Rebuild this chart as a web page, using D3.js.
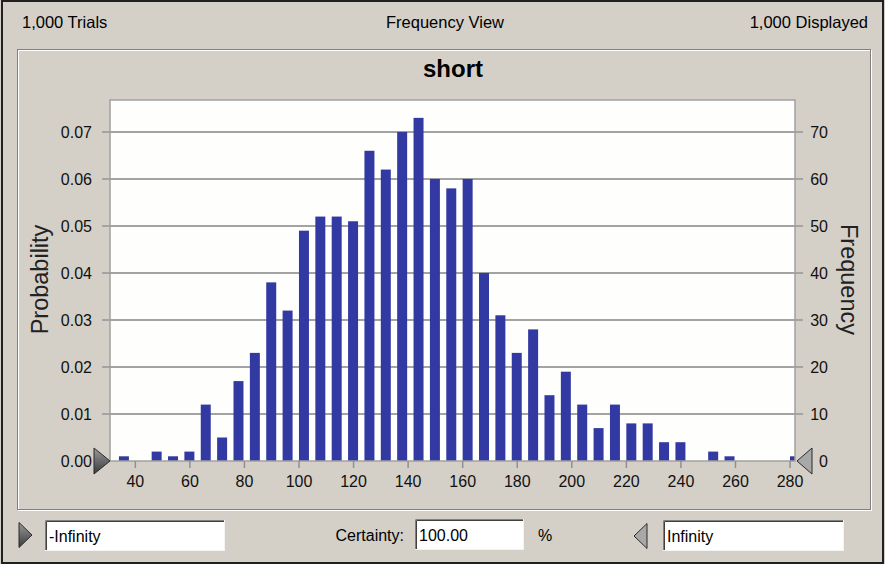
<!DOCTYPE html>
<html>
<head>
<meta charset="utf-8">
<script src="https://cdn.jsdelivr.net/npm/d3@7"></script>
<style>
  body { margin: 0; background: #d4d0c8; }
  svg { display: block; font-family: "Liberation Sans", Arial, sans-serif; }
</style>
</head>
<body>
<svg></svg>
<script>
// histogram data
const trials = 1000;
const binCenters = [36, 42, 48, 54, 60, 66, 72, 78, 84, 90, 96, 102, 108, 114, 120, 126, 132, 138,
    144, 150, 156, 162, 168, 174, 180, 186, 192, 198, 204, 210, 216, 222, 228, 234, 240, 246,
    252, 258, 264, 270, 276, 282];
const frequency = [1, 0, 2, 1, 2, 12, 5, 17, 23, 38, 32, 49, 52, 52, 51, 66, 62, 70, 73, 60, 58, 60,
    40, 31, 23, 28, 14, 19, 12, 7, 12, 8, 8, 4, 4, 0, 2, 1, 0, 0, 0, 1];
const binWidth = 6;
const xTicks = [40, 60, 80, 100, 120, 140, 160, 180, 200, 220, 240, 260, 280];
const probTicks = [0, 0.01, 0.02, 0.03, 0.04, 0.05, 0.06, 0.07];
const freqTicks = [0, 10, 20, 30, 40, 50, 60, 70];

const W = 885, H = 564;
const plot = {l: 110, r: 795, t: 100, b: 461};

const svg = d3.select('svg')
    .attr('width', W)
    .attr('height', H);

const defs = svg.append('defs');
defs.append('clipPath').attr('id', 'plotclip')
    .append('rect')
    .attr('x', plot.l).attr('y', plot.t)
    .attr('width', plot.r - plot.l).attr('height', plot.b - plot.t);
const grad = defs.append('linearGradient').attr('id', 'tri')
    .attr('x1', 0).attr('y1', 0).attr('x2', 0).attr('y2', 1);
grad.append('stop').attr('offset', '0%').attr('stop-color', '#9a9a9a');
grad.append('stop').attr('offset', '100%').attr('stop-color', '#3a3a3a');

// window background + frame
svg.append('rect').attr('width', W).attr('height', H).attr('fill', '#d4d0c8');
svg.append('rect')
    .attr('x', 2).attr('y', 1).attr('width', W - 4).attr('height', H - 2)
    .attr('fill', 'none').attr('stroke', '#202020').attr('stroke-width', 2);

// header
const header = svg.append('g').attr('font-size', 16.5).attr('fill', '#000');
header.append('text').attr('x', 22).attr('y', 28).text('1,000 Trials');
header.append('text').attr('x', 445).attr('y', 28).attr('text-anchor', 'middle').text('Frequency View');
header.append('text').attr('x', 868).attr('y', 28).attr('text-anchor', 'end').text('1,000 Displayed');

// etched group panel
svg.append('rect').attr('x', 18.5).attr('y', 50.5).attr('width', 853).attr('height', 460)
    .attr('fill', 'none').attr('stroke', '#ffffff');
svg.append('rect').attr('x', 17.5).attr('y', 49.5).attr('width', 853).attr('height', 460)
    .attr('fill', 'none').attr('stroke', '#808080');

svg.append('text')
    .attr('x', 453).attr('y', 77)
    .attr('text-anchor', 'middle')
    .attr('font-size', 24).attr('font-weight', 'bold')
    .attr('fill', '#000')
    .text('short');

// scales
const scaleX = d3.scaleLinear()
    .domain([30.9, 282])
    .range([plot.l, plot.r]);
const scaleY = d3.scaleLinear()
    .domain([0, 0.0768])
    .range([plot.b, plot.t]);
const scaleF = d3.scaleLinear()
    .domain([0, 0.0768 * trials])
    .range([plot.b, plot.t]);

// plot area
svg.append('rect')
    .attr('x', plot.l).attr('y', plot.t)
    .attr('width', plot.r - plot.l).attr('height', plot.b - plot.t)
    .attr('fill', '#fefefc');

// gridlines (extending out as ticks on both sides)
svg.append('g').selectAll('line')
    .data(probTicks.slice(1))
    .join('line')
    .attr('x1', plot.l - 8).attr('x2', plot.r + 8)
    .attr('y1', d => scaleY(d)).attr('y2', d => scaleY(d))
    .attr('stroke', '#a3a3a3').attr('stroke-width', 2);

// bars
const barW = scaleX(binWidth * 0.61) - scaleX(0);
svg.append('g')
    .attr('clip-path', 'url(#plotclip)')
    .selectAll('rect')
    .data(binCenters.map((c, i) => ({c: c, p: frequency[i] / trials})))
    .join('rect')
    .attr('x', d => scaleX(d.c) - barW / 2)
    .attr('width', barW)
    .attr('y', d => scaleY(d.p))
    .attr('height', d => plot.b - scaleY(d.p))
    .attr('fill', '#3339a3');

// plot frame
svg.append('rect')
    .attr('x', plot.l).attr('y', plot.t)
    .attr('width', plot.r - plot.l).attr('height', plot.b - plot.t)
    .attr('fill', 'none').attr('stroke', '#a0a0a0').attr('stroke-width', 1.5);

// axes
const axisX = d3.axisBottom(scaleX).tickValues(xTicks).tickSize(7).tickPadding(5);
const axisXG = svg.append('g')
    .attr('transform', `translate(0, ${plot.b})`)
    .call(axisX);
const axisL = d3.axisLeft(scaleY).tickValues(probTicks).tickFormat(d3.format('.2f')).tickSize(0).tickPadding(18);
const axisLG = svg.append('g')
    .attr('transform', `translate(${plot.l}, 0)`)
    .call(axisL);
const axisR = d3.axisLeft(scaleF).tickValues(freqTicks).tickSize(0).tickPadding(0);
const axisRG = svg.append('g')
    .attr('transform', `translate(828, 0)`)
    .call(axisR);

[axisXG, axisLG, axisRG].forEach(g => {
    g.select('.domain').remove();
    g.selectAll('text').attr('font-size', 16).attr('fill', '#111')
        .attr('font-family', '"Liberation Sans", Arial, sans-serif');
    g.selectAll('line').attr('stroke', '#909090').attr('stroke-width', 1.5);
});
axisXG.selectAll('text').attr('dy', '0.9em');

svg.append('text')
    .attr('transform', `translate(48, ${(plot.t + plot.b) / 2 - 1}) rotate(-90)`)
    .attr('text-anchor', 'middle')
    .attr('font-size', 23.5).attr('fill', '#222')
    .text('Probability');
svg.append('text')
    .attr('transform', `translate(841, ${(plot.t + plot.b) / 2 - 1}) rotate(90)`)
    .attr('text-anchor', 'middle')
    .attr('font-size', 23.5).attr('fill', '#222')
    .text('Frequency');

// grabber markers on the axis
function triRight(x, y, w, h) {
    return `M${x},${y - h / 2}L${x + w},${y}L${x},${y + h / 2}Z`;
}
function triLeft(x, y, w, h) {
    return `M${x},${y - h / 2}L${x - w},${y}L${x},${y + h / 2}Z`;
}
svg.append('path').attr('d', triRight(94, plot.b, 16, 26))
    .attr('fill', 'url(#tri)').attr('stroke', '#2a2a2a');
svg.append('path').attr('d', triLeft(812, plot.b, 15, 26))
    .attr('fill', '#a8a8a8').attr('stroke', '#2a2a2a');

// bottom controls
svg.append('path').attr('d', triRight(19, 535, 13, 25))
    .attr('fill', 'url(#tri)').attr('stroke', '#2a2a2a');
svg.append('path').attr('d', triLeft(647, 536, 13, 25))
    .attr('fill', '#a8a8a8').attr('stroke', '#2a2a2a');

function inputBox(x, y, w, h, label) {
    const g = svg.append('g');
    g.append('rect').attr('x', x).attr('y', y).attr('width', w).attr('height', h).attr('fill', '#fff');
    g.append('path').attr('d', `M${x + 0.5},${y + h}V${y + 0.5}H${x + w}`)
        .attr('fill', 'none').attr('stroke', '#808080');
    g.append('path').attr('d', `M${x + 1.5},${y + h - 1}V${y + 1.5}H${x + w - 1}`)
        .attr('fill', 'none').attr('stroke', '#404040');
    g.append('path').attr('d', `M${x},${y + h - 0.5}H${x + w - 0.5}V${y}`)
        .attr('fill', 'none').attr('stroke', '#f4f4f4');
    g.append('text').attr('x', x + 4).attr('y', y + h / 2 + 6)
        .attr('font-size', 16).attr('fill', '#000').text(label);
}
inputBox(45, 520, 180, 31, '-Infinity');
inputBox(415, 519, 109, 31, '100.00');
inputBox(663, 520, 181, 31, 'Infinity');

svg.append('text').attr('x', 404).attr('y', 541).attr('text-anchor', 'end')
    .attr('font-size', 16).attr('fill', '#000').text('Certainty:');
svg.append('text').attr('x', 538).attr('y', 541)
    .attr('font-size', 16).attr('fill', '#000').text('%');
</script>
</body>
</html>
